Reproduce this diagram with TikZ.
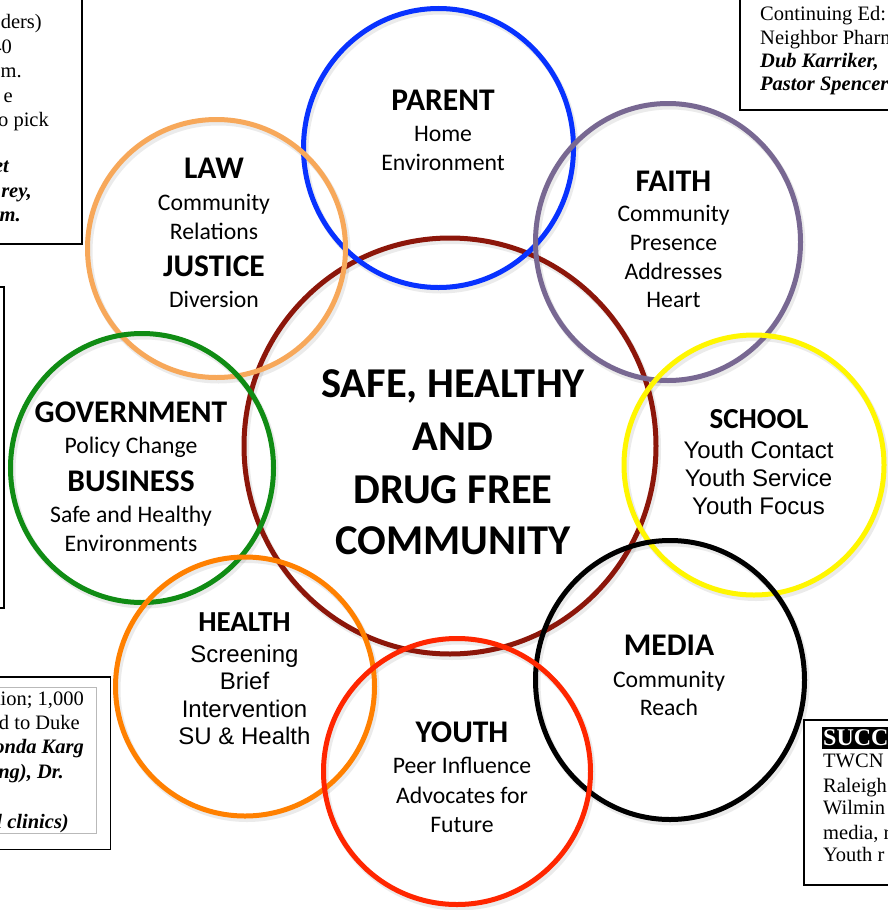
\documentclass[tikz,border=0pt]{standalone}
\usepackage{fontspec}
\setmainfont{Liberation Serif}
\newfontfamily\calibri{Carlito}
\newfontfamily\arialf{Liberation Sans}
\definecolor{cBrown}{RGB}{140,22,10}
\definecolor{cBlue}{RGB}{8,50,255}
\definecolor{cPurple}{RGB}{120,104,146}
\definecolor{cLaw}{RGB}{247,168,90}
\definecolor{cGreen}{RGB}{16,140,20}
\definecolor{cYellow}{RGB}{255,246,0}
\definecolor{cHealth}{RGB}{255,128,0}
\definecolor{cYouth}{RGB}{255,38,0}
\begin{document}
\begin{tikzpicture}[x=1pt,y=-1pt,
  ring/.style={line width=5pt},
  shade/.style={line width=6pt,black,opacity=0.08},
  hd/.style={font=\calibri\bfseries\fontsize{31.5}{36}\selectfont,anchor=base,inner sep=0pt},
  hdm/.style={font=\calibri\bfseries\fontsize{29}{34}\selectfont,anchor=base,inner sep=0pt},
  bd/.style={font=\calibri\fontsize{23.7}{28}\selectfont,anchor=base,inner sep=0pt},
  ar/.style={font=\arialf\fontsize{24}{28}\selectfont,anchor=base,inner sep=0pt},
  big/.style={font=\calibri\bfseries\fontsize{42.5}{50}\selectfont,anchor=base,inner sep=0pt},
  tx/.style={font=\fontsize{20.5}{24}\selectfont,inner sep=0pt},
  txb/.style={font=\bfseries\itshape\fontsize{20.5}{24}\selectfont,inner sep=0pt},
  boxline/.style={line width=1.3pt,black}]
\useasboundingbox (0,0) rectangle (888,910);
\fill[white] (0,0) rectangle (888,910);

% side boxes
\draw[boxline] (-5,-5) rectangle (82,244);
\draw[boxline] (740,-5) rectangle (893,110);
\draw[boxline] (-5,287) rectangle (4,608);
\draw[boxline] (-5,677) rectangle (110.5,849.5);
\draw[gray!55,line width=0.6pt] (-5,687) rectangle (96,833);
\draw[boxline] (804,720) rectangle (893,885);

% top-left box text
\node[tx,anchor=base east] (tl1) at (42,28) {ders)};
\node[tx,anchor=base east] (tl2) at (12,53) {40};
\node[tx,anchor=base east] (tl3) at (22,77) {m.};
\node[tx,anchor=base east] (tl4) at (13,102) {e};
\node[tx,anchor=base east] (tl5) at (49,126) {o pick};
\node[txb,anchor=base east] (tl6) at (9,172) {et};
\node[txb,anchor=base east] (tl7) at (32,197) {rey,};
\node[txb,anchor=base east] (tl8) at (21,221) {m.};

% top-right box text
\node[tx,anchor=base west] (tr1) at (760,20) {Continuing Ed:};
\node[tx,anchor=base west] (tr2) at (760,44) {Neighbor Pharm};
\node[txb,anchor=base west] (tr3) at (760,67) {Dub Karriker,};
\node[txb,anchor=base west] (tr4) at (760,90) {Pastor Spencer};

% bottom-left box text
\node[tx,anchor=base east] (bl1) at (84,705) {tion; 1,000};
\node[tx,anchor=base east] (bl2) at (80,729) {d to Duke};
\node[txb,anchor=base east] (bl3) at (84,753) {onda Karg};
\node[txb,anchor=base east] (bl4) at (64,778) {ng), Dr.};
\node[txb,anchor=base east] (bl5) at (69,828) {l clinics)};

% bottom-right box text
\fill[black] (822,727) rectangle (893,748.5);
\node[tx,font=\bfseries\fontsize{24}{28}\selectfont,text=white,anchor=base west] (br0) at (823,745.5) {SUCC};
\node[tx,anchor=base west] (br1) at (823,767) {TWCN};
\node[tx,anchor=base west] (br2) at (823,792) {Raleigh};
\node[tx,anchor=base west] (br3) at (823,814) {Wilmin};
\node[tx,anchor=base west] (br4) at (823,839) {media, r};
\node[tx,anchor=base west] (br5) at (823,861) {Youth r};

% shadows
\begin{scope}[shift={(2,3)}]
\draw[shade] (450,446) ellipse [x radius=206,y radius=208];
\draw[shade] (438.5,148) ellipse [x radius=135,y radius=139.5];
\draw[shade] (216.5,248.5) ellipse [x radius=129,y radius=129];
\draw[shade] (668,242) ellipse [x radius=132.5,y radius=138.5];
\draw[shade] (142,468) ellipse [x radius=131.5,y radius=134.5];
\draw[shade] (754,465) ellipse [x radius=130,y radius=130];
\draw[shade] (670,680) ellipse [x radius=134.5,y radius=139.5];
\draw[shade] (245,686.5) ellipse [x radius=129.5,y radius=129.5];
\draw[shade] (457,771.5) ellipse [x radius=133.5,y radius=133];
\end{scope}

% rings
\draw[ring,cBrown] (450,446) ellipse [x radius=206,y radius=208];
\draw[ring,cBlue] (438.5,148) ellipse [x radius=135,y radius=139.5];
\draw[ring,cLaw] (216.5,248.5) ellipse [x radius=129,y radius=129];
\draw[ring,cPurple] (668,242) ellipse [x radius=132.5,y radius=138.5];
\draw[ring,cGreen] (142,468) ellipse [x radius=131.5,y radius=134.5];
\draw[ring,cYellow] (754,465) ellipse [x radius=130,y radius=130];
\draw[ring,black] (670,680) ellipse [x radius=134.5,y radius=139.5];
\draw[ring,cHealth] (245,686.5) ellipse [x radius=129.5,y radius=129.5];
\draw[ring,cYouth] (457,771.5) ellipse [x radius=133.5,y radius=133];

% centre
\node[big] (c1) at (453,397) {SAFE, HEALTHY};
\node[big] (c2) at (453,450) {AND};
\node[big] (c3) at (453,503) {DRUG FREE};
\node[big] (c4) at (453,554) {COMMUNITY};

% parent
\node[hd] (p1) at (443,110) {PARENT};
\node[bd] (p2) at (443,141.5) {Home};
\node[bd] (p3) at (443,170) {Environment};

% law
\node[hd] (l1) at (214,178) {LAW};
\node[bd] (l2) at (214,210) {Community};
\node[bd] (l3) at (214,239) {Relations};
\node[hd] (l4) at (214,276) {JUSTICE};
\node[bd] (l5) at (214,307) {Diversion};

% faith
\node[hd] (f1) at (673.5,191) {FAITH};
\node[bd] (f2) at (673.5,221) {Community};
\node[bd] (f3) at (673.5,250) {Presence};
\node[bd] (f4) at (673.5,279) {Addresses};
\node[bd] (f5) at (673.5,307.5) {Heart};

% government
\node[hd] (g1) at (131,422) {GOVERNMENT};
\node[bd] (g2) at (131,453) {Policy Change};
\node[hd] (g3) at (131,491) {BUSINESS};
\node[bd] (g4) at (131,522) {Safe and Healthy};
\node[bd] (g5) at (131,551) {Environments};

% school
\node[hdm] (s1) at (759,428) {SCHOOL};
\node[ar] (s2) at (758.5,458) {Youth Contact};
\node[ar] (s3) at (758.5,486) {Youth Service};
\node[ar] (s4) at (758.5,514) {Youth Focus};

% media
\node[hd] (m1) at (669,655) {MEDIA};
\node[bd] (m2) at (669,687) {Community};
\node[bd] (m3) at (669,715.5) {Reach};

% health
\node[hdm] (h1) at (244.5,631) {HEALTH};
\node[ar] (h2) at (244.5,662) {Screening};
\node[ar] (h3) at (244.5,689) {Brief};
\node[ar] (h4) at (244.5,717) {Intervention};
\node[ar] (h5) at (244.5,744) {SU \& Health};

% youth
\node[hd] (y1) at (462,742) {YOUTH};
\node[bd] (y2) at (462,773) {Peer Influence};
\node[bd] (y3) at (462,803) {Advocates for};
\node[bd] (y4) at (462,832) {Future};
\end{tikzpicture}
\end{document}
